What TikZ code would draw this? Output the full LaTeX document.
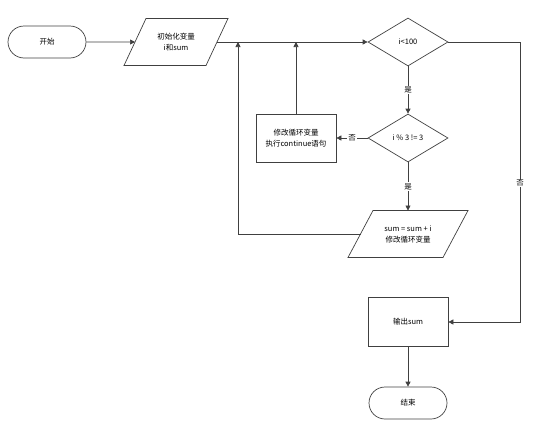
\documentclass[tikz,border=0pt]{standalone}
\usepackage{fontspec}
\setmainfont{Noto Sans CJK SC}
\usetikzlibrary{shapes.geometric,shapes.misc,arrows.meta,calc}
\begin{document}
\begin{tikzpicture}[x=1pt,y=-1pt,
  txt/.style={font=\fontsize{7.5}{11}\selectfont,align=center,inner sep=1pt},
  base/.style={txt,draw=black!75,line width=0.7pt},
  term/.style={base,rounded rectangle,minimum width=80pt,minimum height=32pt},
  proc/.style={base,rectangle,minimum width=80pt,minimum height=48pt},
  outline/.style={draw=black!75,line width=0.7pt},
  dec/.style={base,diamond,aspect=1.67,minimum width=80pt,minimum height=48pt,inner sep=0pt},
  conn/.style={draw=black!75,line width=0.7pt},
  arr/.style={conn,-{Triangle[length=5pt,width=5pt]}},
  lab/.style={fill=white,inner sep=1pt,font=\fontsize{7.5}{10}\selectfont}]
\useasboundingbox (0,0) rectangle (554,442);
\node[term] (start) at (47,42) {开始};
\node[txt] (init) at (176,42) {初始化变量\\i和sum};
\draw[outline] ($(init)+(-52,23.5)$) -- ($(init)+(-30,-23.5)$) -- ($(init)+(52,-23.5)$) -- ($(init)+(30,23.5)$) -- cycle;
\coordinate (initW) at ($(init)+(-41,0)$);
\coordinate (initE) at ($(init)+(41,0)$);
\node[dec] (d1) at (408,42) {i<100};
\node[dec] (d2) at (408,138) {i \% 3 != 3};
\node[proc] (upd) at (296,138) {修改循环变量\\执行continue语句};
\node[txt] (sum) at (408,234) {sum = sum + i\\修改循环变量};
\draw[outline] ($(sum)+(-60,23.5)$) -- ($(sum)+(-35,-23.5)$) -- ($(sum)+(60,-23.5)$) -- ($(sum)+(35,23.5)$) -- cycle;
\coordinate (sumW) at ($(sum)+(-47.5,0)$);
\coordinate (sumN) at ($(sum)+(0,-23.5)$);
\node[proc,minimum height=49pt] (out) at (408,322) {输出sum};
\node[term] (stop) at (408,403) {结束};
\coordinate (j1) at (238,42);
\coordinate (j2) at (296,42);
\coordinate (r1) at (520,42);
\coordinate (r2) at (520,322);
\coordinate (l1) at (238,234);
\draw[arr] (start) -- (initW);
\draw[arr] (initE) -- (d1);
\draw[arr] (upd.north) -- (j2);
\draw[arr] (sumW) -- (l1) -- (j1);
\draw[arr] (d1.east) -- (r1) -- (r2) -- (out.east);
\node[lab] at (520,183) {否};
\draw[arr] (d1.south) -- node[lab] {是} (d2.north);
\draw[arr] (d2.west) -- node[lab] {否} (upd.east);
\draw[arr] (d2.south) -- node[lab] {是} (sumN);
\draw[arr] (out.south) -- (stop.north);
\end{tikzpicture}
\end{document}
